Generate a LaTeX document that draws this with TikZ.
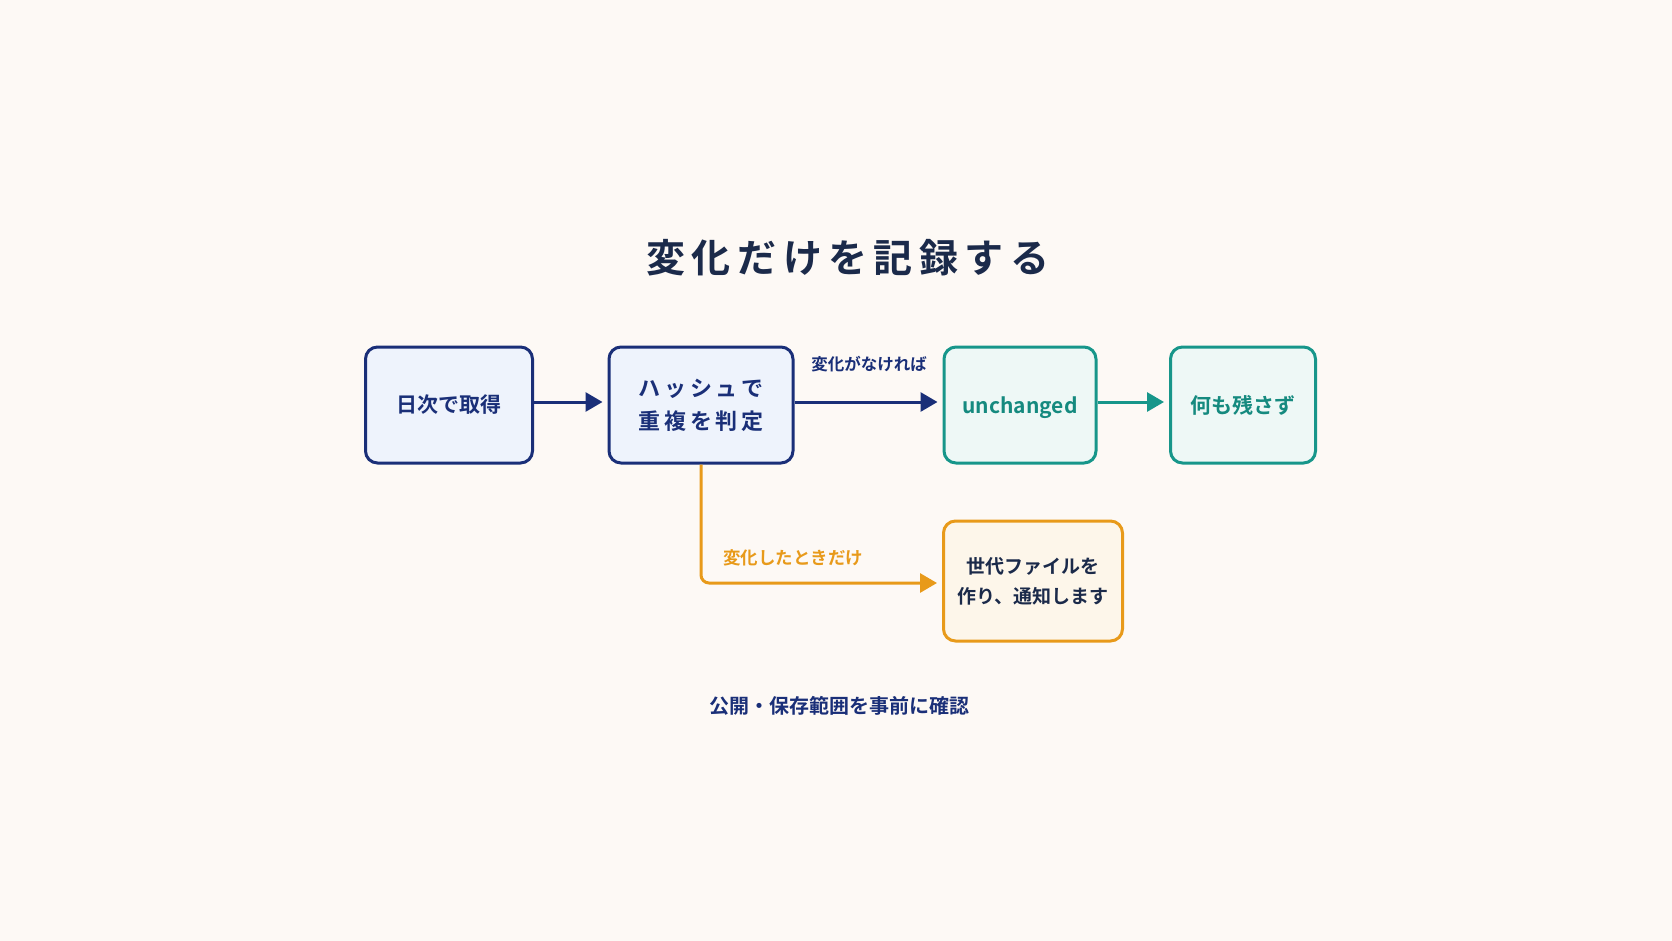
\documentclass[tikz,border=0pt]{standalone}
\usepackage{fontspec}
\setmainfont{Noto Sans CJK JP}[BoldFont={* Bold}]
\newfontfamily\jpb{Noto Sans CJK JP Bold}
\usetikzlibrary{arrows.meta,positioning}
\definecolor{bg}{HTML}{FDF9F5}
\definecolor{navy}{HTML}{1A2F78}
\definecolor{navyfill}{HTML}{EEF3FC}
\definecolor{teal}{HTML}{17968A}
\definecolor{tealtext}{HTML}{158A7F}
\definecolor{tealfill}{HTML}{EEF8F6}
\definecolor{orng}{HTML}{E89A1A}
\definecolor{orngfill}{HTML}{FDF6EA}
\definecolor{dark}{HTML}{1B2A4A}
\tikzset{
  boxbase/.style={rounded corners=12pt, line width=3pt, align=center, inner sep=0pt, font=\jpb},
  navybox/.style={boxbase, draw=navy, fill=navyfill, text=navy},
  tealbox/.style={boxbase, draw=teal, fill=tealfill, text=tealtext},
  orngbox/.style={boxbase, draw=orng, fill=orngfill, text=dark},
  arr/.style={line width=3pt, -{Triangle[length=17pt,width=19pt]}, shorten >=5pt},
  lbl/.style={font=\jpb, inner sep=0pt}
}
\begin{document}
\begin{tikzpicture}[x=1pt,y=-1pt]
\fill[bg] (0,0) rectangle (1672,941);
\useasboundingbox (0,0) rectangle (1672,941);

\node[font=\jpb\fontsize{39}{44}\selectfont, text=dark] (title) at (848,258) {変\,化\,だ\,け\,を\,記\,録\,す\,る};

\node[navybox, minimum width=167pt, minimum height=116pt, font=\jpb\fontsize{21}{26}\selectfont] (b1) at (449,405) {日次で取得};
\node[navybox, minimum width=184pt, minimum height=116pt, font=\jpb\fontsize{22}{33}\selectfont] (b2) at (701,405) {ハ\,ッ\,シ\,ュ\,で\\重\,複\,を\,判\,定};
\node[tealbox, minimum width=152pt, minimum height=116pt, text height=17.5pt, text depth=0pt, font=\jpb\fontsize{21}{26}\selectfont] (b3) at (1020,405) {unchanged};
\node[tealbox, minimum width=145pt, minimum height=116pt, font=\jpb\fontsize{21}{26}\selectfont] (b4) at (1243,405) {何も残さず};
\node[orngbox, minimum width=179pt, minimum height=120pt, font=\jpb\fontsize{19}{30}\selectfont] (b5) at (1033,581) {世代ファイルを\\作り、通知します};

\draw[arr, navy] ([yshift=3pt]b1.east) -- ([yshift=3pt]b2.west);
\draw[arr, navy] ([yshift=3pt]b2.east) -- ([yshift=3pt]b3.west);
\draw[arr, teal] ([yshift=3pt]b3.east) -- ([yshift=3pt]b4.west);
\coordinate (bend) at (701,583);
\draw[arr, orng, rounded corners=8pt] (b2.south) -- (bend) -- (b5.west |- bend);

\node[lbl, text=navy, font=\jpb\fontsize{16.5}{19}\selectfont] (l1) at (869,364) {変化がなければ};
\node[lbl, text=orng, font=\jpb\fontsize{17.5}{20}\selectfont] (l2) at (793,558) {変化したときだけ};

\node[lbl, text=navy, font=\jpb\fontsize{20}{23}\selectfont] (foot) at (839,706) {公開・保存範囲を事前に確認};
\end{tikzpicture}
\end{document}
